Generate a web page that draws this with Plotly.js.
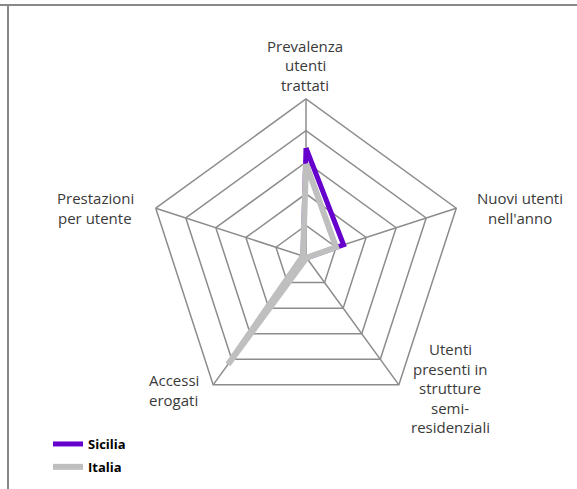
<!DOCTYPE html>
<html>
<head>
<meta charset="utf-8">
<script src="https://cdn.plot.ly/plotly-3.0.1.min.js"></script>
<style>html,body{margin:0;padding:0;background:#fff;}#chart{width:577px;height:489px;}</style>
</head>
<body>
<div id="chart"></div>
<script>
// ---- data ----
var categories = ["Prevalenza utenti trattati", "Nuovi utenti nell'anno", "Utenti presenti in strutture semi-residenziali", "Accessi erogati", "Prestazioni per utente"];
var categoryLabels = [
  ["Prevalenza", "utenti", "trattati"],
  ["Nuovi utenti", "nell'anno"],
  ["Utenti", "presenti in", "strutture", "semi-", "residenziali"],
  ["Accessi", "erogati"],
  ["Prestazioni", "per utente"]
];
var seriesNames = ["Sicilia", "Italia"];
var sicilia = [3.45, 1.25, 0.03, 1.5, 0.1];
var italia = [2.95, 1.0, 0.03, 4.2, 0.1];

// ---- layout config ----
var W = 577, H = 489;
var labelPos = [
  {x: 305, y: 46, anchor: "center"},
  {x: 520, y: 198, anchor: "center"},
  {x: 450, y: 349, anchor: "center"},
  {x: 147, y: 380, anchor: "left"},
  {x: 95, y: 198, anchor: "center"}
];
var lineStep = 19.5;
var cx = 306, cy = 257, R = 158;

function closeLoop(a) { return a.concat([a[0]]); }

var traces = [
  {type: "scatterpolar", mode: "lines", name: seriesNames[0], legendgroup: "g1",
   r: closeLoop(sicilia), theta: closeLoop(categories),
   line: {color: "#6600CC", width: 5}, hoverinfo: "skip"},
  {type: "scatterpolar", mode: "lines", name: seriesNames[1], legendgroup: "g2",
   r: closeLoop(italia), theta: closeLoop(categories),
   line: {color: "#BFBFBF", width: 6}, hoverinfo: "skip"}
];

var annotations = [];
categoryLabels.forEach(function(lines, i) {
  var p = labelPos[i];
  lines.forEach(function(t, j) {
    annotations.push({
      xref: "paper", yref: "paper",
      x: p.x / W, y: 1 - (p.y + j * lineStep) / H,
      xanchor: p.anchor, yanchor: "middle",
      text: t, showarrow: false,
      font: {family: "Open Sans, sans-serif", size: 15, color: "#3A3A3A"}
    });
  });
});

var layout = {
  width: W, height: H,
  margin: {l: 0, r: 0, t: 0, b: 0},
  paper_bgcolor: "#ffffff",
  showlegend: true,
  legend: {
    x: 48 / W, y: 1 - 429 / H, xanchor: "left", yanchor: "top",
    font: {family: "Open Sans, sans-serif", size: 13, color: "#000", weight: "bold"},
    tracegroupgap: 3, traceorder: "grouped", bgcolor: "rgba(0,0,0,0)"
  },
  polar: {
    domain: {x: [(cx - R) / W, (cx + R) / W], y: [(H - cy - R) / H, (H - cy + R) / H]},
    bgcolor: "#ffffff",
    gridshape: "linear",
    radialaxis: {range: [0, 5], dtick: 1, showticklabels: false, ticks: "", showline: false,
                 gridcolor: "#8C8C8C", gridwidth: 1.5},
    angularaxis: {direction: "clockwise", rotation: 90, showticklabels: false, ticks: "",
                  showline: true, linecolor: "#8C8C8C", linewidth: 1.5,
                  gridcolor: "#8C8C8C", gridwidth: 1.5}
  },
  annotations: annotations,
  shapes: [
    {type: "line", xref: "paper", yref: "paper", x0: 0, x1: 1, y0: 1 - 5 / H, y1: 1 - 5 / H,
     line: {color: "#888888", width: 2}},
    {type: "line", xref: "paper", yref: "paper", x0: 8 / W, x1: 8 / W, y0: 1 - 5 / H, y1: 0,
     line: {color: "#888888", width: 2}}
  ]
};

Plotly.newPlot("chart", traces, layout, {displayModeBar: false, staticPlot: true});
</script>
</body>
</html>
